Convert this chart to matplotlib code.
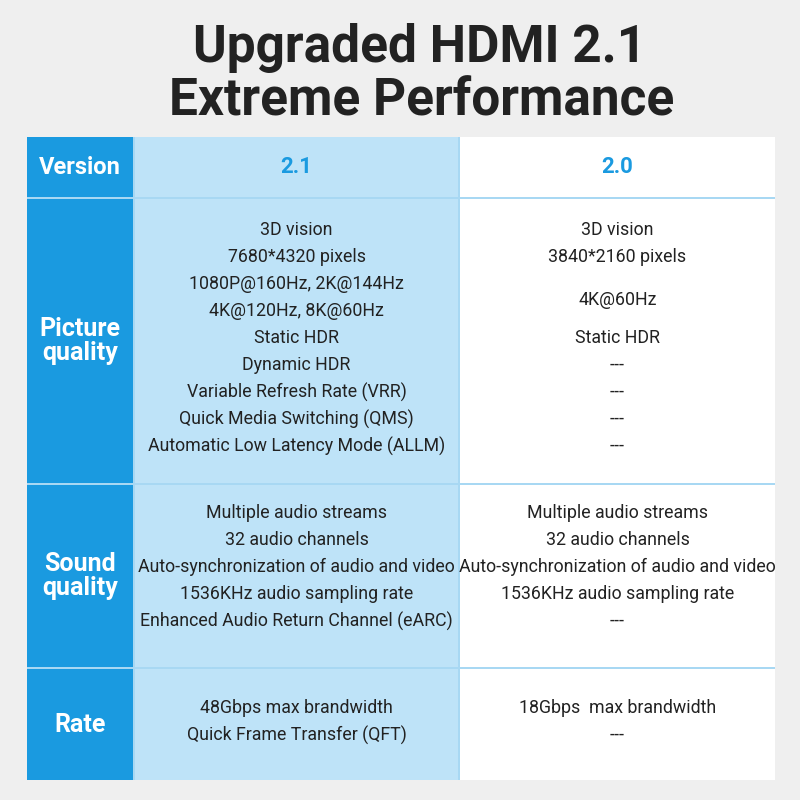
import matplotlib.pyplot as plt
from matplotlib.patches import Rectangle

title_lines = ["Upgraded HDMI 2.1", "Extreme Performance"]
versions = ["2.1", "2.0"]
row_names = ["Picture\nquality", "Sound\nquality", "Rate"]

picture_21 = ["3D vision", "7680*4320 pixels", "1080P@160Hz, 2K@144Hz", "4K@120Hz, 8K@60Hz",
              "Static HDR", "Dynamic HDR", "Variable Refresh Rate (VRR)",
              "Quick Media Switching (QMS)", "Automatic Low Latency Mode (ALLM)"]
picture_20 = ["3D vision", "3840*2160 pixels", "4K@60Hz", "Static HDR", "---", "---", "---", "---"]
picture_20_slots = [0, 1, 2.6, 4, 5, 6, 7, 8]
sound_21 = ["Multiple audio streams", "32 audio channels", "Auto-synchronization of audio and video",
            "1536KHz audio sampling rate", "Enhanced Audio Return Channel (eARC)"]
sound_20 = ["Multiple audio streams", "32 audio channels", "Auto-synchronization of audio and video",
            "1536KHz audio sampling rate", "---"]
rate_21 = ["48Gbps max brandwidth", "Quick Frame Transfer (QFT)"]
rate_20 = ["18Gbps  max brandwidth", "---"]

plt.rcParams['font.family'] = ['Roboto', 'DejaVu Sans']
fig = plt.figure(figsize=(8, 8), dpi=100)
fig.patch.set_facecolor('#efefef')
ax = fig.add_axes([0, 0, 1, 1])
ax.set_xlim(0, 800)
ax.set_ylim(800, 0)
ax.axis('off')

blue = '#1a9ae0'
light = '#bee3f8'
line_c = '#a8d8f3'

ax.text(420, 48, title_lines[0], ha='center', va='center', fontsize=37, fontweight='bold', color='#222222')
ax.text(422, 101, title_lines[1], ha='center', va='center', fontsize=37, fontweight='bold', color='#222222')

# table background shows through gaps as thin light-blue lines
ax.add_patch(Rectangle((27, 137), 748, 643, facecolor=line_c, edgecolor='none'))
rows = [(137, 197), (199, 483), (485, 667), (669, 780)]
cols = [(27, 133), (135, 458), (460, 775)]
colors = [blue, light, 'white']
for (y0, y1) in rows:
    for (x0, x1), c in zip(cols, colors):
        ax.add_patch(Rectangle((x0, y0), x1 - x0, y1 - y0, facecolor=c, edgecolor='none'))

ax.text(80, 167, "Version", ha='center', va='center', fontsize=17, fontweight='bold', color='white')
for (x0, x1), v in zip(cols[1:], versions):
    ax.text((x0 + x1) / 2, 167, v, ha='center', va='center', fontsize=16, fontweight='bold', color=blue)
for (y0, y1), name in zip(rows[1:], row_names):
    ax.text(80, (y0 + y1) / 2, name, ha='center', va='center', fontsize=18, fontweight='bold',
            color='white', linespacing=1.05)

c21 = (cols[1][0] + cols[1][1]) / 2
c20 = (cols[2][0] + cols[2][1]) / 2
step = 27
kw = dict(ha='center', va='center', fontsize=12.8, color='#222222', fontstretch='condensed')
for i, s in enumerate(picture_21):
    ax.text(c21, 230 + i * step, s, **kw)
for k, s in zip(picture_20_slots, picture_20):
    ax.text(c20, 230 + k * step, s, **kw)
for i, (a, b) in enumerate(zip(sound_21, sound_20)):
    ax.text(c21, 513 + i * step, a, **kw)
    ax.text(c20, 513 + i * step, b, **kw)
for i, (a, b) in enumerate(zip(rate_21, rate_20)):
    ax.text(c21, 708 + i * step, a, **kw)
    ax.text(c20, 708 + i * step, b, **kw)

fig.savefig('out.png', dpi=100, facecolor=fig.get_facecolor())
